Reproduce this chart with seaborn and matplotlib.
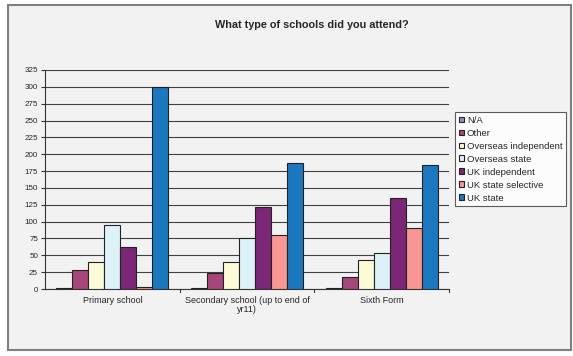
import pandas as pd
import numpy as np
import matplotlib
matplotlib.use('Agg')
import matplotlib.pyplot as plt
from matplotlib.patches import Rectangle
import seaborn as sns

# data
stages = ['Primary school', 'Secondary school (up to end of\nyr11)', 'Sixth Form']
school_types = ['N/A', 'Other', 'Overseas independent', 'Overseas state',
                'UK independent', 'UK state selective', 'UK state']
na_vals = [1, 1, 2]
other_vals = [28, 24, 18]
overseas_indep_vals = [40, 40, 43]
overseas_state_vals = [95, 76, 54]
uk_indep_vals = [63, 121, 135]
uk_selective_vals = [3, 80, 91]
uk_state_vals = [300, 187, 184]

colours = ['#9290C8', '#A8457A', '#FCFBD8', '#DCF2F8', '#7B2775', '#F79694', '#1B77BE']

series = [na_vals, other_vals, overseas_indep_vals, overseas_state_vals,
          uk_indep_vals, uk_selective_vals, uk_state_vals]
rows = []
for name, vals in zip(school_types, series):
    for stage, v in zip(stages, vals):
        rows.append({'stage': stage, 'type': name, 'count': v})
df = pd.DataFrame(rows)

sns.set_style('white')
plt.rcParams['font.family'] = ['Liberation Sans', 'DejaVu Sans']

bg = '#F2F2F2'
fig = plt.figure(figsize=(5.73, 3.56), dpi=100)
fig.patch.set_facecolor('white')
# chart frame
fig.patches.append(Rectangle((8 / 573, 1 - 350 / 356), 563 / 573, 345 / 356,
                             transform=fig.transFigure, facecolor=bg,
                             edgecolor='#7F7F7F', linewidth=1.5, zorder=-10))

ax = fig.add_axes([45 / 573, 1 - 289 / 356, 404 / 573, 219 / 356])
ax.set_facecolor(bg)
sns.barplot(data=df, x='stage', y='count', hue='type', hue_order=school_types,
            order=stages, palette=colours, width=0.83, edgecolor='#222222',
            linewidth=0.8, saturation=1, ax=ax, zorder=3)

ax.set_ylim(0, 325)
ax.set_yticks(np.arange(0, 326, 25))
ax.set_xlim(-0.5, 2.5)
ax.yaxis.grid(True, color='#404040', linewidth=0.8, zorder=0)
ax.set_axisbelow(True)
for s in ['top', 'right']:
    ax.spines[s].set_visible(False)
ax.spines['left'].set_color('#333333')
ax.spines['bottom'].set_color('#333333')
ax.tick_params(axis='y', length=3, labelsize=5.8, pad=2, left=True, color='#333333')
ax.tick_params(axis='x', length=0, labelsize=6.5, pad=5)
ax.set_xticks([0, 1, 2])
ax.set_xticklabels(stages, linespacing=1.0)
# category separator ticks
for xs in [0.5, 1.5, 2.5]:
    ax.plot([xs, xs], [0, -4], color='#333333', linewidth=0.8, clip_on=False)
ax.set_xlabel('')
ax.set_ylabel('')

fig.text(312 / 573, 1 - 25 / 356, 'What type of schools did you attend?',
         ha='center', va='center', fontsize=7.8, weight='bold')

leg = ax.legend(loc='upper left', bbox_to_anchor=(455 / 573, 1 - 112 / 356),
                bbox_transform=fig.transFigure, fontsize=6.8, frameon=True,
                handlelength=0.55, handleheight=0.55, handletextpad=0.3,
                labelspacing=0.42, borderpad=0.4, borderaxespad=0,
                fancybox=False)
leg.get_frame().set_edgecolor('#333333')
leg.get_frame().set_facecolor('white')
leg.get_frame().set_linewidth(0.8)

plt.savefig('out.png', dpi=100, facecolor='white')
